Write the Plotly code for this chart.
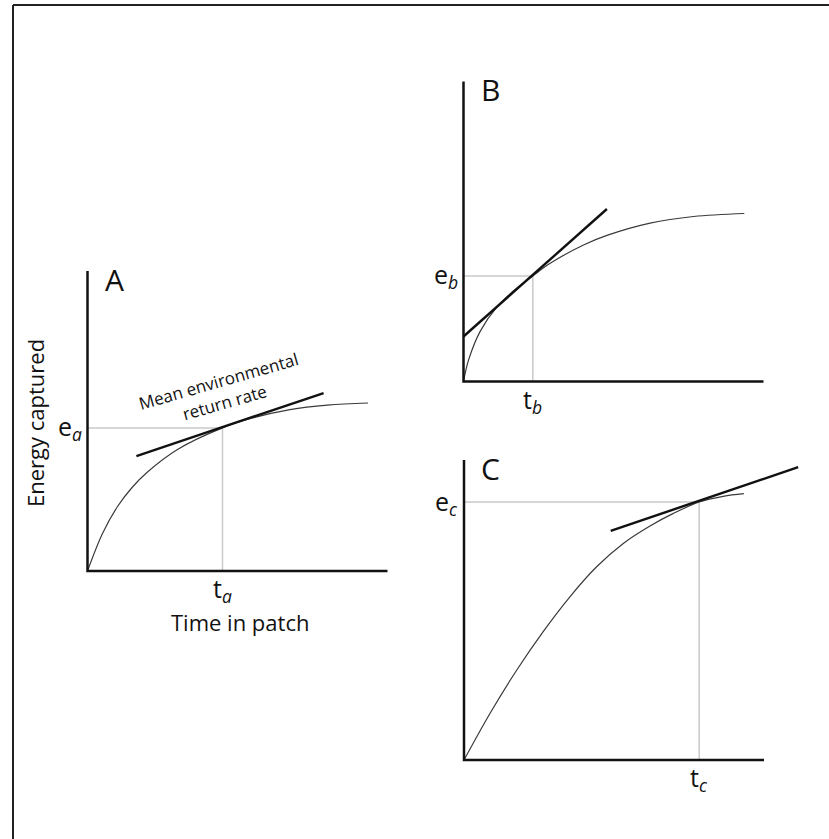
import plotly.graph_objects as go

W, H = 829, 839
PX = 30.0          # pixels per data unit, identical on every panel
AXIS_LEN = 10.0    # drawn length of each axis, in data units
FONT = "Open Sans"
INK = "#111111"

# ---- Panel A: gain curve, mean environmental return-rate tangent, leaving point
curve_a_t = [0, 0.5, 1.0, 1.5, 2.0, 3.0, 4.5, 5.5, 6.75, 8.0, 9.35]
curve_a_e = [0, 1.25, 2.15, 2.80, 3.30, 4.05, 4.77, 5.10, 5.38, 5.53, 5.60]
tangent_a_t = [1.63, 7.87]
tangent_a_e = [3.83, 5.93]
leave_a = (4.50, 4.77)

# ---- Panel B: richer environment -> steeper tangent, earlier departure
curve_b_t = [0, 0.17, 0.56, 1.11, 1.70, 2.31, 2.89, 4.00, 4.78, 6.22, 7.67, 9.36]
curve_b_e = [0, 0.72, 1.68, 2.48, 3.05, 3.52, 3.94, 4.55, 4.87, 5.28, 5.50, 5.60]
tangent_b_t = [0.0, 4.78]
tangent_b_e = [1.50, 5.75]
leave_b = (2.31, 3.52)

# ---- Panel C: slowly saturating patch -> later departure
curve_c_t = [0, 0.87, 1.76, 2.64, 3.53, 4.42, 5.31, 6.20, 6.98, 7.84, 8.64, 9.33]
curve_c_e = [0, 1.56, 3.00, 4.28, 5.44, 6.44, 7.22, 7.80, 8.22, 8.60, 8.79, 8.88]
tangent_c_t = [4.89, 11.14]
tangent_c_e = [7.64, 9.76]
leave_c = (7.84, 8.60)

panel_letters = ["A", "B", "C"]
sub_letters = ["a", "b", "c"]

# pixel origin of each panel's axes and the data range shown around it
panels = [
    dict(origin=(87.5, 571.0), xr=(-0.3, 10.4), yr=(-0.3, 10.3),
         curve=(curve_a_t, curve_a_e), tangent=(tangent_a_t, tangent_a_e), leave=leave_a),
    dict(origin=(463.5, 381.5), xr=(-0.3, 10.4), yr=(-0.3, 10.3),
         curve=(curve_b_t, curve_b_e), tangent=(tangent_b_t, tangent_b_e), leave=leave_b),
    dict(origin=(464.0, 760.0), xr=(-0.3, 11.6), yr=(-0.3, 10.3),
         curve=(curve_c_t, curve_c_e), tangent=(tangent_c_t, tangent_c_e), leave=leave_c),
]

fig = go.Figure()
layout = dict(
    width=W, height=H, margin=dict(l=0, r=0, t=0, b=0),
    paper_bgcolor="white", plot_bgcolor="rgba(0,0,0,0)",
    showlegend=False, font=dict(family=FONT, color=INK),
)
shapes = []
annotations = []

for i, p in enumerate(panels):
    k = "" if i == 0 else str(i + 1)
    xa, ya = "x" + k, "y" + k
    ox, oy = p["origin"]
    layout["xaxis" + k] = dict(
        domain=[(ox + p["xr"][0] * PX) / W, (ox + p["xr"][1] * PX) / W],
        range=list(p["xr"]), visible=False, fixedrange=True, anchor=ya)
    layout["yaxis" + k] = dict(
        domain=[1 - (oy - p["yr"][0] * PX) / H, 1 - (oy - p["yr"][1] * PX) / H],
        range=list(p["yr"]), visible=False, fixedrange=True, anchor=xa)

    t_opt, e_opt = p["leave"]
    # light guide lines to the leaving point
    fig.add_trace(go.Scatter(x=[0, t_opt, t_opt], y=[e_opt, e_opt, 0], mode="lines",
                             line=dict(color="#c9c9c9", width=1.5),
                             xaxis=xa, yaxis=ya, hoverinfo="skip"))
    # cumulative energy gain curve
    fig.add_trace(go.Scatter(x=p["curve"][0], y=p["curve"][1], mode="lines",
                             line=dict(color="#3a3a3a", width=1.2, shape="spline", smoothing=1.0),
                             xaxis=xa, yaxis=ya, hoverinfo="skip"))
    # tangent with slope equal to the environmental return rate
    fig.add_trace(go.Scatter(x=p["tangent"][0], y=p["tangent"][1], mode="lines",
                             line=dict(color=INK, width=2.4),
                             xaxis=xa, yaxis=ya, hoverinfo="skip"))

    # L-shaped axes
    shapes.append(dict(type="path", xref=xa, yref=ya,
                       path=f"M 0,{AXIS_LEN} L 0,0 L {AXIS_LEN},0",
                       line=dict(color=INK, width=2.5), layer="above"))

    # tick-style labels at the leaving point
    annotations.append(dict(x=0, y=e_opt, xref=xa, yref=ya, showarrow=False,
                            xanchor="right", yanchor="middle", xshift=-4,
                            text=f"e<sub><i>{sub_letters[i]}</i></sub>",
                            font=dict(size=25, family=FONT, color=INK)))
    annotations.append(dict(x=t_opt, y=0, xref=xa, yref=ya, showarrow=False,
                            xanchor="center", yanchor="top", yshift=2,
                            text=f"t<sub><i>{sub_letters[i]}</i></sub>",
                            font=dict(size=25, family=FONT, color=INK)))
    # panel letter
    annotations.append(dict(x=0.9, y=9.72, xref=xa, yref=ya, showarrow=False,
                            xanchor="center", yanchor="middle",
                            text=panel_letters[i], font=dict(size=30, family=FONT, color=INK)))

# axis titles (placed on the page beside panel A) and the tangent caption
annotations.append(dict(x=35 / W, y=1 - 423 / H, xref="paper", yref="paper", showarrow=False,
                        xanchor="center", yanchor="middle",
                        textangle=-90, text="Energy captured",
                        font=dict(size=22, family=FONT, color=INK)))
annotations.append(dict(x=240 / W, y=1 - 622 / H, xref="paper", yref="paper", showarrow=False,
                        xanchor="center", yanchor="middle",
                        text="Time in patch", font=dict(size=22, family=FONT, color=INK)))
annotations.append(dict(x=4.48, y=5.98, xref="x", yref="y", showarrow=False,
                        textangle=-16, text="Mean environmental<br>return rate",
                        font=dict(size=17, family=FONT, color=INK)))

# frame lines along the top and left edges
bx, by = 13 / W, 1 - 5 / H
shapes.append(dict(type="line", xref="paper", yref="paper", x0=bx, y0=by, x1=1, y1=by,
                   line=dict(color="#222222", width=2)))
shapes.append(dict(type="line", xref="paper", yref="paper", x0=bx, y0=by, x1=bx, y1=0,
                   line=dict(color="#222222", width=2)))

layout["shapes"] = shapes
layout["annotations"] = annotations
fig.update_layout(**layout)
fig.write_html("out.html")
